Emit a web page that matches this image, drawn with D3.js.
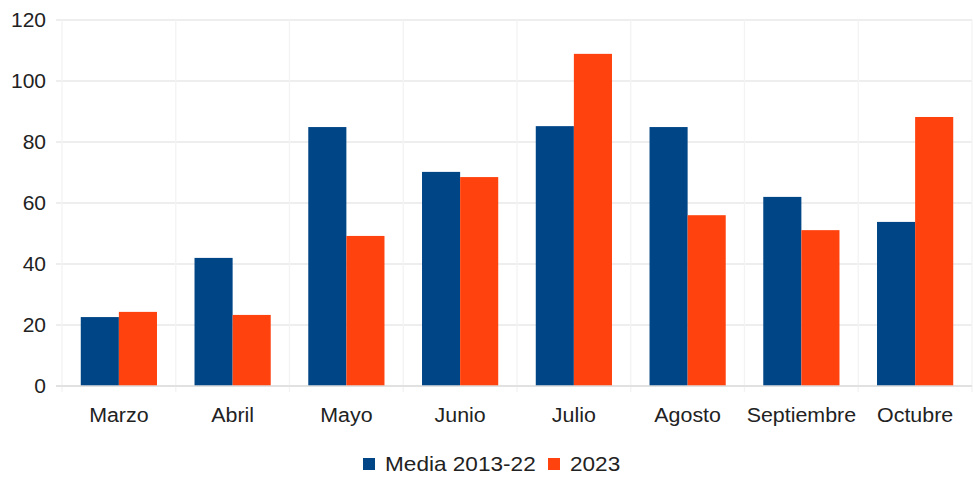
<!DOCTYPE html>
<html>
<head>
<meta charset="utf-8">
<script src="https://cdn.jsdelivr.net/npm/d3@7"></script>
<style>
    body { margin: 0; background: #fff; }
    svg { font-family: "Liberation Sans", Arial, sans-serif; }
</style>
</head>
<body>
<svg id="chart" width="973" height="479"></svg>
<script>
let months = ["Marzo", "Abril", "Mayo", "Junio", "Julio", "Agosto", "Septiembre", "Octubre"];
let seriesNames = ["Media 2013-22", "2023"];
let media = [22.6, 42, 84.9, 70.2, 85.2, 84.9, 62, 53.8];
let y2023 = [24.3, 23.3, 49.2, 68.5, 108.9, 56, 51.1, 88.2];
let yTicks = [0, 20, 40, 60, 80, 100, 120];
let colors = ["#004586", "#ff420e"];

let width = 973;
let height = 479;
let margin = {top: 20, right: 1, bottom: 93, left: 62};

let svg = d3.select("#chart");

let x = d3.scaleBand()
    .domain(months)
    .range([margin.left, width - margin.right])
    .paddingInner(0.33)
    .paddingOuter(0.165);

let xSub = d3.scaleBand()
    .domain(seriesNames)
    .range([0, x.bandwidth()]);

let y = d3.scaleLinear()
    .domain([0, 120])
    .range([height - margin.bottom, margin.top]);

// horizontal grid
svg.append("g")
    .selectAll("line")
    .data(yTicks)
    .join("line")
    .attr("x1", margin.left - 6)
    .attr("x2", width - margin.right)
    .attr("y1", d => y(d))
    .attr("y2", d => y(d))
    .attr("stroke", "#e8e8e8")
    .attr("stroke-width", 1.3);

// vertical separators between categories
let step = (width - margin.right - margin.left) / months.length;
let bounds = d3.range(months.length + 1).map(i => margin.left + i * step);
svg.append("g")
    .selectAll("line")
    .data(bounds)
    .join("line")
    .attr("x1", d => d)
    .attr("x2", d => d)
    .attr("y1", margin.top)
    .attr("y2", y(0) + 6)
    .attr("stroke", "#f3f3f3")
    .attr("stroke-width", 1.3);

// y labels
svg.append("g")
    .selectAll("text")
    .data(yTicks)
    .join("text")
    .attr("x", 46)
    .attr("y", d => y(d))
    .attr("dy", "0.35em")
    .attr("text-anchor", "end")
    .attr("font-size", 21)
    .attr("fill", "#222")
    .text(d => d);

// bars
let rows = months.map((m, i) => ({month: m, values: [media[i], y2023[i]]}));

svg.append("g")
    .selectAll("g")
    .data(rows)
    .join("g")
    .attr("transform", d => `translate(${x(d.month)},0)`)
    .selectAll("rect")
    .data(d => d.values.map((v, k) => ({name: seriesNames[k], value: v, k})))
    .join("rect")
    .attr("x", d => xSub(d.name))
    .attr("y", d => y(d.value))
    .attr("width", xSub.bandwidth())
    .attr("height", d => y(0) - y(d.value))
    .attr("fill", d => colors[d.k]);

// baseline
svg.append("line")
    .attr("x1", margin.left - 6)
    .attr("x2", width - margin.right)
    .attr("y1", y(0))
    .attr("y2", y(0))
    .attr("stroke", "#dcdcdc")
    .attr("stroke-width", 1.3);

// x labels (slightly widened like the original)
svg.append("g")
    .selectAll("text")
    .data(months)
    .join("text")
    .attr("transform", d => `translate(${x(d) + x.bandwidth() / 2},422) scale(1.07,1)`)
    .attr("text-anchor", "middle")
    .attr("font-size", 20)
    .attr("fill", "#222")
    .text(d => d);

// legend
let legend = svg.append("g").attr("transform", "translate(363,464)");
let legendX = [0, 185];
seriesNames.forEach((name, k) => {
    let g = legend.append("g").attr("transform", `translate(${legendX[k]},0)`);
    g.append("rect")
        .attr("x", 0)
        .attr("y", -6)
        .attr("width", 12)
        .attr("height", 12)
        .attr("fill", colors[k]);
    g.append("text")
        .attr("transform", "translate(22,0) scale(1.13,1)")
        .attr("dy", "0.35em")
        .attr("font-size", 20)
        .attr("fill", "#222")
        .text(name);
});
</script>
</body>
</html>
